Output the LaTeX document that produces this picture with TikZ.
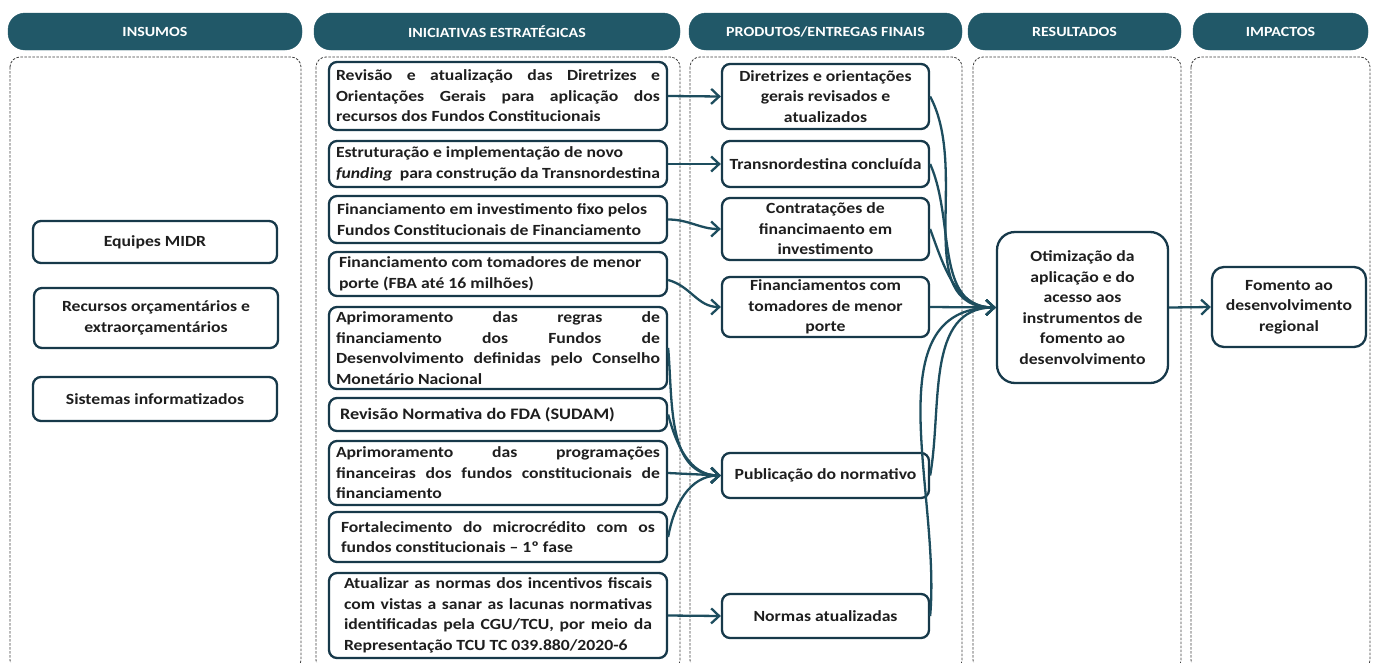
\documentclass[tikz,border=0pt]{standalone}
\usepackage{fontspec}
\setmainfont{Carlito}[FakeStretch=1.14]
\usetikzlibrary{arrows.meta}
\definecolor{hdr}{HTML}{215868}
\definecolor{bdr}{HTML}{17394A}
\definecolor{arr}{HTML}{1D4D5E}
\definecolor{txt}{HTML}{1E1E1E}
\newcommand{\jl}[2][324pt]{\makebox[#1][s]{#2}}
\newcommand{\lt}[2]{\parbox{#1}{\raggedright #2}}
\newcommand{\ct}[2]{\parbox{#1}{\centering #2}}
\begin{document}
\begin{tikzpicture}[x=1pt,y=-1pt,
  hdrbox/.style={fill=hdr, draw=hdr, rounded corners=17pt, minimum height=37pt, text=white,
    font=\fontsize{14}{16}\selectfont\bfseries, inner sep=0pt},
  colbox/.style={draw=black!75, dash pattern=on 2.5pt off 1.5pt, line width=0.8pt, rounded corners=10pt},
  nbox/.style={draw=bdr, line width=2.3pt, rounded corners=8pt, fill=white, inner xsep=0pt, inner ysep=1pt,
    font=\fontsize{15.5}{20.5}\selectfont\bfseries, text=txt},
  ibox/.style={nbox, minimum width=338pt},
  pbox/.style={nbox, minimum width=207pt},
  sbox/.style={nbox, minimum width=244pt},
  conn/.style={draw=arr, line width=2.3pt, -{Straight Barb[length=8pt,width=15pt]}},
]
\useasboundingbox (0,0) rectangle (1376,662);
\clip (0,0) rectangle (1376,662);
\fill[white] (0,0) rectangle (1376,662);

% headers
\node[hdrbox, minimum width=294pt] (h1) at (155,31.5) {INSUMOS};
\node[hdrbox, minimum width=366pt] (h2) at (497,31.5) {INICIATIVAS ESTRATÉGICAS};
\node[hdrbox, minimum width=273pt] (h3) at (825.5,31.5) {PRODUTOS/ENTREGAS FINAIS};
\node[hdrbox, minimum width=213pt] (h4) at (1074.5,31.5) {RESULTADOS};
\node[hdrbox, minimum width=175pt] (h5) at (1280.5,31.5) {IMPACTOS};

% column frames
\draw[colbox] (10,57) rectangle (301,670);
\draw[colbox] (316,57) rectangle (680,670);
\draw[colbox] (690,57) rectangle (962,670);
\draw[colbox] (973,57) rectangle (1181,670);
\draw[colbox] (1191,57) rectangle (1370,670);

% insumos
\node[sbox, minimum height=42pt] (e1) at (155,242) {\ct{230pt}{Equipes MIDR}};
\node[sbox, minimum height=60pt] (e2) at (156,318) {\ct{230pt}{Recursos orçamentários e\\extraorçamentários}};
\node[sbox, minimum height=44pt] (e3) at (155,399) {\ct{230pt}{Sistemas informatizados}};

% iniciativas
\node[ibox, minimum height=68pt] (I1) at (498,96) {\lt{324pt}{\jl{Revisão e atualização das Diretrizes e}\\\jl{Orientações Gerais para aplicação dos}\\recursos dos Fundos Constitucionais}};
\node[ibox, minimum height=46pt] (I2) at (498,164) {\lt{324pt}{Estruturação e implementação de novo\\\textit{funding}\ \ para construção da Transnordestina}};
\node[ibox, minimum height=47pt] (I3) at (498,219.5) {\lt{322pt}{Financiamento em investimento fixo pelos\\Fundos Constitucionais de Financiamento}};
\node[ibox, minimum height=44pt] (I4) at (498,274) {\lt{318pt}{Financiamento com tomadores de menor\\porte (FBA até 16 milhões)}};
\node[ibox, minimum height=82pt] (I5) at (498,348) {\lt{324pt}{\jl{Aprimoramento das regras de}\\\jl{financiamento dos Fundos de}\\\jl{Desenvolvimento definidas pelo Conselho}\\Monetário Nacional}};
\node[ibox, minimum height=33pt, font=\fontsize{16}{20.5}\selectfont\bfseries] (I6) at (498,414.5) {\lt{316pt}{Revisão Normativa do FDA (SUDAM)}};
\node[ibox, minimum height=64pt] (I7) at (498,473) {\lt{324pt}{\jl{Aprimoramento das programações}\\\jl{financeiras dos fundos constitucionais de}\\financiamento}};
\node[ibox, minimum height=50pt] (I8) at (498,537) {\lt{314pt}{\jl[314pt]{Fortalecimento do microcrédito com os}\\fundos constitucionais – 1º fase}};
\node[ibox, minimum height=85pt] (I9) at (498,615.5) {\lt{308pt}{\jl[308pt]{Atualizar as normas dos incentivos fiscais}\\\jl[308pt]{com vistas a sanar as lacunas normativas}\\\jl[308pt]{identificadas pela CGU/TCU, por meio da}\\Representação TCU TC 039.880/2020-6}};

% produtos
\node[pbox, minimum height=65pt] (P1) at (825.5,96.5) {\ct{200pt}{Diretrizes e orientações\\gerais revisados e\\atualizados}};
\node[pbox, minimum height=46pt] (P2) at (825.5,164) {\ct{200pt}{Transnordestina concluída}};
\node[pbox, minimum height=62pt] (P3) at (825.5,229) {\ct{200pt}{Contratações de\\financimaento em\\investimento}};
\node[pbox, minimum height=60pt] (P4) at (825.5,307) {\ct{200pt}{Financiamentos com\\tomadores de menor\\porte}};
\node[pbox, minimum height=45pt] (P5) at (825.5,475.5) {\ct{200pt}{Publicação do normativo}};
\node[pbox, minimum height=44pt] (P6) at (825.5,616) {\ct{200pt}{Normas atualizadas}};

% resultados / impactos
\node[nbox, rounded corners=18pt, minimum width=171pt, minimum height=151pt] (R) at (1082.5,307.5) {\ct{160pt}{Otimização da\\aplicação e do\\acesso aos\\instrumentos de\\fomento ao\\desenvolvimento}};
\node[nbox, rounded corners=12pt, minimum width=154pt, minimum height=80pt] (M) at (1289,307) {\ct{148pt}{Fomento ao\\desenvolvimento\\regional}};

% connectors iniciativas -> produtos
\draw[conn] (I1.east) -- (P1.west);
\draw[conn] (I2.east) -- (P2.west);
\draw[conn] (I3.east) to[out=0,in=180] (P3.west);
\draw[conn] ([yshift=-6pt]I4.east) to[out=-15,in=180] (P4.west);
\draw[conn] (I5.east) to[out=-85,in=180] (P5.west);
\draw[conn] (I6.east) to[out=-75,in=180] (P5.west);
\draw[conn] (I7.east) -- (P5.west);
\draw[conn] (I8.east) to[out=80,in=180] (P5.west);
\draw[conn] (I9.east) -- (P6.west);

% connectors produtos -> resultado
\draw[conn] (P1.east) to[out=-62,in=180] (R.west);
\draw[conn] (P2.east) to[out=-66,in=180] (R.west);
\draw[conn] (P3.east) to[out=-70,in=180] (R.west);
\draw[conn] (P4.east) -- (R.west);
\draw[conn] (P5.east) to[out=80,in=180] (R.west);
\draw[conn] (P6.east) to[out=85,in=180] (R.west);

% resultado -> impacto
\draw[conn] (R.east) -- (M.west);
\end{tikzpicture}
\end{document}
